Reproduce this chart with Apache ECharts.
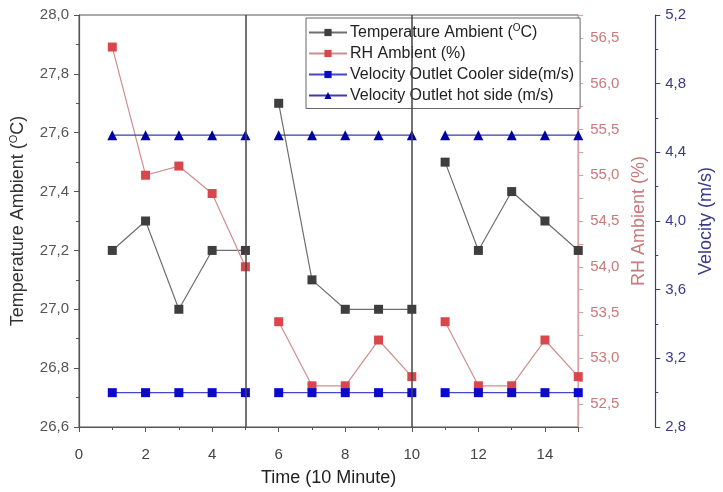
<!DOCTYPE html>
<html>
<head>
    <meta charset="utf-8">
    <title>Temperature, RH and Velocity</title>
    <script src="https://cdn.jsdelivr.net/npm/echarts@6/dist/echarts.min.js"></script>
</head>
<body style="margin:0">
    <div id="main" style="width:723px;height:492px;"></div>
    <script>
        var timeSteps = [1, 2, 3, 4, 5, 6, 7, 8, 9, 10, 11, 12, 13, 14, 15];
        var tempAmbient = [27.2, 27.3, 27.0, 27.2, 27.2, 27.7, 27.1, 27.0, 27.0, 27.0, 27.5, 27.2, 27.4, 27.3, 27.2];
        var rhAmbient = [56.4, 55.0, 55.1, 54.8, 54.0, 53.4, 52.7, 52.7, 53.2, 52.8, 53.4, 52.7, 52.7, 53.2, 52.8];
        var velCooler = [3.0, 3.0, 3.0, 3.0, 3.0, 3.0, 3.0, 3.0, 3.0, 3.0, 3.0, 3.0, 3.0, 3.0, 3.0];
        var velHot = [4.5, 4.5, 4.5, 4.5, 4.5, 4.5, 4.5, 4.5, 4.5, 4.5, 4.5, 4.5, 4.5, 4.5, 4.5];
        var breakAfter = [5, 10];   // runs are not joined across these times
        var seriesNames = [
            'Temperature Ambient (OC)',
            'RH Ambient (%)',
            'Velocity Outlet Cooler side(m/s)',
            'Velocity Outlet hot side (m/s)'
        ];

        var FONT = 'Liberation Sans, Arial, sans-serif';
        var GRAY = '#555555';
        var RH_COLOR = '#c97a7a';
        var VEL_COLOR = '#3a3a86';

        function toData(values) {
            var out = [];
            timeSteps.forEach(function (t, i) {
                out.push([t, values[i]]);
                if (breakAfter.indexOf(t) >= 0) {
                    out.push([t + 0.5, '-']);
                }
            });
            return out;
        }

        function comma(v, digits) {
            return v.toFixed(digits).replace('.', ',');
        }

        var supRich = {
            n: { fontSize: 16, fontFamily: FONT, color: '#222' },
            s: { fontSize: 10, fontFamily: FONT, color: '#222', padding: [0, 0, 9, 0] }
        };

        var chartDom = document.getElementById('main');
        var myChart = echarts.init(chartDom);
        var option = {
            animation: false,
            textStyle: { fontFamily: FONT },
            legend: {
                orient: 'vertical',
                left: 306,
                top: 18,
                width: 279,
                padding: [5, 6, 5, 2],
                itemGap: 5,
                itemWidth: 38,
                itemHeight: 9,
                borderColor: '#666',
                borderWidth: 1,
                backgroundColor: '#fff',
                data: seriesNames,
                formatter: function (name) {
                    if (name === seriesNames[0]) {
                        return '{n|Temperature Ambient (}{s|O}{n|C)}';
                    }
                    return name;
                },
                textStyle: {
                    fontSize: 16,
                    color: '#222',
                    padding: [0, 0, 0, -2],
                    rich: supRich
                }
            },
            grid: {
                show: true,
                left: 76,
                right: 137,
                top: 15,
                bottom: 60,
                borderColor: GRAY,
                borderWidth: 1,
                backgroundColor: 'transparent'
            },
            xAxis: {
                type: 'value',
                min: 0,
                max: 15,
                interval: 2,
                name: 'Time (10 Minute)',
                nameLocation: 'middle',
                nameGap: 42,
                nameTextStyle: { fontSize: 18, color: '#222' },
                axisLine: { lineStyle: { color: GRAY, width: 1.2 } },
                axisTick: { length: 5, lineStyle: { color: GRAY } },
                minorTick: { show: true, splitNumber: 2, length: 3, lineStyle: { color: GRAY } },
                axisLabel: { fontSize: 15, color: '#444', margin: 20, showMaxLabel: false },
                splitLine: { show: false }
            },
            yAxis: [
                {
                    type: 'value',
                    position: 'left',
                    min: 26.6,
                    max: 28.0,
                    interval: 0.2,
                    name: '{n|Temperature Ambient (}{s|O}{n|C)}',
                    nameLocation: 'middle',
                    nameGap: 50,
                    nameTextStyle: {
                        rich: {
                            n: { fontSize: 18, fontFamily: FONT, color: '#333' },
                            s: { fontSize: 11, fontFamily: FONT, color: '#333', padding: [0, 0, 10, 0] }
                        }
                    },
                    axisLine: { show: true, lineStyle: { color: GRAY, width: 1.2 } },
                    axisTick: { show: true, length: 5, lineStyle: { color: GRAY } },
                    minorTick: { show: true, splitNumber: 2, length: 3, lineStyle: { color: GRAY } },
                    axisLabel: {
                        fontSize: 15,
                        color: '#555',
                        margin: 10,
                        formatter: function (v) { return comma(v, 1); }
                    },
                    splitLine: { show: false }
                },
                {
                    type: 'value',
                    position: 'right',
                    min: 52.25,
                    max: 56.75,
                    interval: 0.25,
                    name: 'RH Ambient (%)',
                    nameLocation: 'middle',
                    nameGap: 38,
                    nameRotate: 90,
                    nameTextStyle: { fontSize: 18, color: RH_COLOR },
                    axisLine: { show: true, lineStyle: { color: '#d9a0a0', width: 1.2 } },
                    axisTick: { show: true, length: 5, lineStyle: { color: '#d9a0a0' } },
                    axisLabel: {
                        fontSize: 15,
                        color: RH_COLOR,
                        margin: 12,
                        formatter: function (v) {
                            var twice = v * 2;
                            if (Math.abs(twice - Math.round(twice)) > 1e-6) {
                                return '';
                            }
                            return comma(v, 1);
                        }
                    },
                    splitLine: { show: false }
                },
                {
                    type: 'value',
                    position: 'right',
                    offset: 77,
                    min: 2.8,
                    max: 5.2,
                    interval: 0.4,
                    name: 'Velocity (m/s)',
                    nameLocation: 'middle',
                    nameGap: 40,
                    nameRotate: 90,
                    nameTextStyle: { fontSize: 18, color: VEL_COLOR },
                    axisLine: { show: true, lineStyle: { color: VEL_COLOR, width: 1.2 } },
                    axisTick: { show: true, length: 5, lineStyle: { color: VEL_COLOR } },
                    minorTick: { show: true, splitNumber: 2, length: 3, lineStyle: { color: VEL_COLOR } },
                    axisLabel: {
                        fontSize: 15,
                        color: VEL_COLOR,
                        margin: 10,
                        formatter: function (v) { return comma(v, 1); }
                    },
                    splitLine: { show: false }
                }
            ],
            series: [
                {
                    name: seriesNames[0],
                    type: 'line',
                    yAxisIndex: 0,
                    data: toData(tempAmbient),
                    symbol: 'rect',
                    symbolSize: 9,
                    itemStyle: { color: '#3e3e3e' },
                    lineStyle: { color: '#6e6e6e', width: 1.2 },
                    markLine: {
                        silent: true,
                        symbol: 'none',
                        label: { show: false },
                        lineStyle: { color: '#444', width: 1.5, type: 'solid' },
                        data: breakAfter.map(function (t) { return { xAxis: t }; })
                    }
                },
                {
                    name: seriesNames[1],
                    type: 'line',
                    yAxisIndex: 1,
                    data: toData(rhAmbient),
                    symbol: 'rect',
                    symbolSize: 9,
                    itemStyle: { color: '#d9474d' },
                    lineStyle: { color: '#cf8e8e', width: 1.2 }
                },
                {
                    name: seriesNames[2],
                    type: 'line',
                    yAxisIndex: 2,
                    data: toData(velCooler),
                    symbol: 'rect',
                    symbolSize: 9,
                    itemStyle: { color: '#0a0ac8' },
                    lineStyle: { color: '#4646c8', width: 1.2 }
                },
                {
                    name: seriesNames[3],
                    type: 'line',
                    yAxisIndex: 2,
                    data: toData(velHot),
                    symbol: 'triangle',
                    symbolSize: 10,
                    itemStyle: { color: '#0000a0' },
                    lineStyle: { color: '#3a3ab8', width: 1.2 }
                }
            ]
        };

        option && myChart.setOption(option);
    </script>
</body>
</html>
